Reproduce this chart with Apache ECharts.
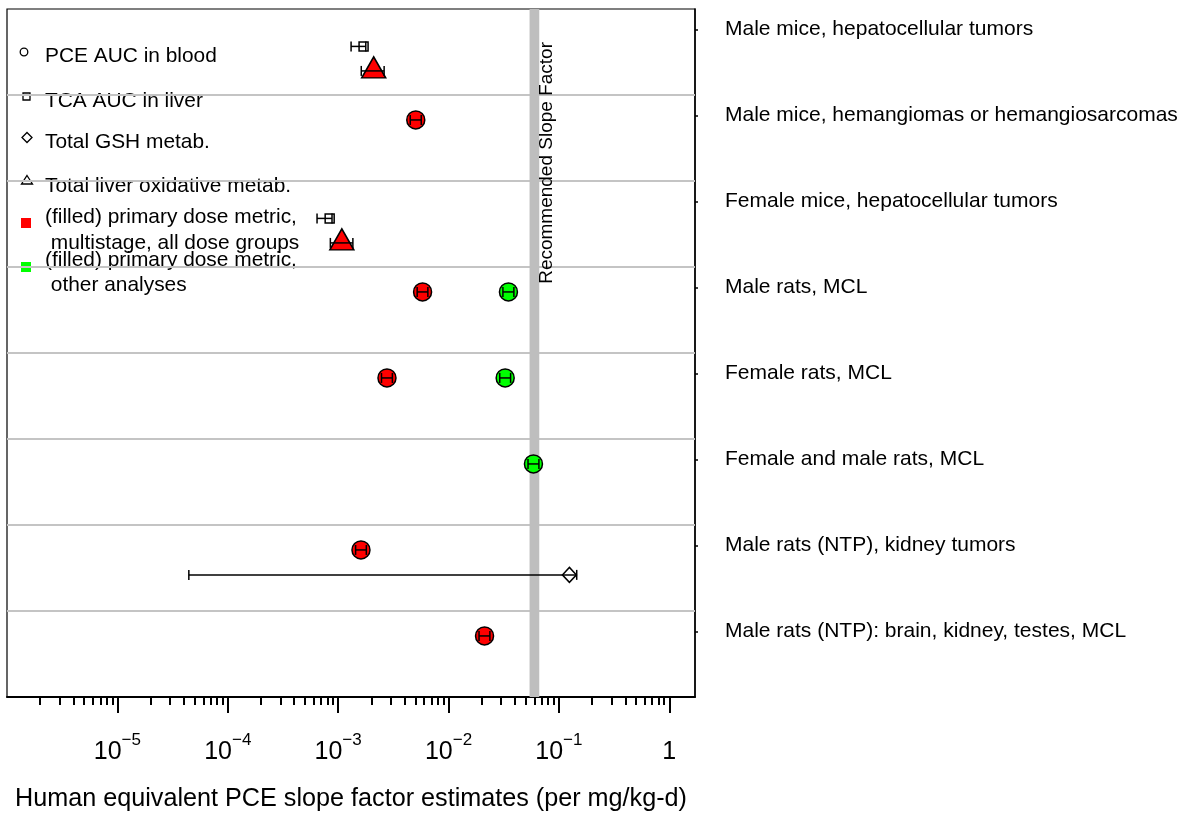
<!DOCTYPE html>
<html>
<head>
<meta charset="utf-8">
<script src="https://cdn.jsdelivr.net/npm/echarts@6/dist/echarts.min.js"></script>
<style>
  html, body { margin: 0; padding: 0; background: #fff; }
  #chart { width: 1187px; height: 813px; }
</style>
</head>
<body>
<div id="chart"></div>
<script>
const FONT = '"Liberation Sans", Arial, Helvetica, sans-serif';

// Study / tumor-site rows, top to bottom
const categories = [
  'Male mice, hepatocellular tumors',
  'Male mice, hemangiomas or hemangiosarcomas',
  'Female mice, hepatocellular tumors',
  'Male rats, MCL',
  'Female rats, MCL',
  'Female and male rats, MCL',
  'Male rats (NTP), kidney tumors',
  'Male rats (NTP): brain, kidney, testes, MCL'
];

// Each entry: [row index, estimate, lower bound, upper bound]  (per mg/kg-d)
const pceBloodMultistage = [
  [1, 5.05e-3, 4.5e-3, 5.66e-3],
  [3, 5.82e-3, 5.2e-3, 6.5e-3],
  [4, 2.77e-3, 2.47e-3, 3.1e-3],
  [6, 1.61e-3, 1.44e-3, 1.8e-3],
  [7, 0.0212, 0.0189, 0.0237]
];
const pceBloodOther = [
  [3, 0.0349, 0.0311, 0.0391],
  [4, 0.0326, 0.0291, 0.0365],
  [5, 0.0588, 0.0525, 0.0659]
];
const tcaLiver = [
  [0, 1.70e-3, 1.31e-3, 1.78e-3],
  [2, 8.38e-4, 6.44e-4, 8.8e-4]
];
const totalGsh = [
  [6, 0.1245, 4.44e-5, 0.145]
];
const liverOxidativeMultistage = [
  [0, 2.10e-3, 1.62e-3, 2.61e-3],
  [2, 1.08e-3, 8.5e-4, 1.36e-3]
];
const recommendedSlopeFactor = 0.06;

// Axis ticks
const decadeTicks = [1e-5, 1e-4, 1e-3, 1e-2, 1e-1, 1];
const decadeExponents = [-5, -4, -3, -2, -1, 0];
const minorTicks = [];
for (let e = -6; e <= -1; e++) {
  for (let m = 2; m <= 9; m++) minorTicks.push(+(m * Math.pow(10, e)).toPrecision(3));
}

// Layout inside each row (fraction of a row)
const LABEL_POS = 0.24;
const ROW_POS = { blood: 0.29, tca: 0.435, gsh: 0.58, oxid: 0.72 };
const X_MIN = 1e-6, X_MAX = 1.71;

const toPoints = (rows, pos) => rows.map(r => [r[1], r[0] + pos]);
const toBars = (rows, pos) => rows.map(r => [r[2], r[3], r[0] + pos]);

function errorBarItem(params, api) {
  const y = api.value(2);
  const a = api.coord([api.value(0), y]);
  const b = api.coord([api.value(1), y]);
  const h = 5;
  const st = { stroke: '#000', lineWidth: 1.5 };
  return {
    type: 'group',
    children: [
      { type: 'line', shape: { x1: a[0], y1: a[1], x2: b[0], y2: b[1] }, style: st },
      { type: 'line', shape: { x1: a[0], y1: a[1] - h, x2: a[0], y2: a[1] + h }, style: st },
      { type: 'line', shape: { x1: b[0], y1: b[1] - h, x2: b[0], y2: b[1] + h }, style: st }
    ]
  };
}

function separatorItem(params, api) {
  const k = api.value(0);
  const a = api.coord([X_MIN, k]);
  const b = api.coord([X_MAX, k]);
  return { type: 'line', shape: { x1: a[0], y1: a[1], x2: b[0], y2: b[1] },
           style: { stroke: '#c4c4c4', lineWidth: 2 } };
}

function recommendedItem(params, api) {
  const v = api.value(0);
  const top = api.coord([v, 0]);
  const bot = api.coord([v, categories.length]);
  return {
    type: 'group',
    children: [
      { type: 'rect', shape: { x: top[0] - 4.85, y: top[1], width: 9.7, height: bot[1] - top[1] },
        style: { fill: '#bebebe' } },
      { type: 'text', x: top[0] + 12.5, y: top[1] + 33, rotation: Math.PI / 2,
        style: { text: 'Recommended Slope Factor', fill: '#000', font: '19px ' + FONT,
                 align: 'right', verticalAlign: 'middle' } }
    ]
  };
}

const separators = [];
for (let k = 1; k < categories.length; k++) separators.push([k]);

const blackEdge = { borderColor: '#000', borderWidth: 1.5, opacity: 1 };

// Legend drawn as graphic elements
const legendText = [
  ['PCE AUC in blood', 45, 56],
  ['TCA AUC in liver', 45, 101],
  ['Total GSH metab.', 45, 142],
  ['Total liver oxidative metab.', 45, 186],
  ['(filled) primary dose metric,', 45, 217],
  [' multistage, all dose groups', 45, 243],
  ['(filled) primary dose metric,', 45, 260],
  [' other analyses', 45, 285]
];
const legendGraphics = legendText.map(t => ({
  type: 'text', x: t[1], y: t[2],
  style: { text: t[0], font: '20.9px ' + FONT, fill: '#000', verticalAlign: 'middle', align: 'left' }
}));
legendGraphics.push(
  { type: 'circle', shape: { cx: 24, cy: 52, r: 3.8 }, style: { fill: 'none', stroke: '#000', lineWidth: 1.3 } },
  { type: 'rect', shape: { x: 23, y: 93, width: 7, height: 7 }, style: { fill: 'none', stroke: '#000', lineWidth: 1.3 } },
  { type: 'polygon', shape: { points: [[27, 132.5], [32, 137.5], [27, 142.5], [22, 137.5]] }, style: { fill: 'none', stroke: '#000', lineWidth: 1.3 } },
  { type: 'polygon', shape: { points: [[27, 175.5], [32.5, 184], [21.5, 184]] }, style: { fill: 'none', stroke: '#000', lineWidth: 1.3 } },
  { type: 'rect', shape: { x: 21, y: 218, width: 10, height: 10 }, style: { fill: '#ff0000' } },
  { type: 'rect', shape: { x: 21, y: 262, width: 10, height: 10 }, style: { fill: '#00ff00' } }
);

const chart = echarts.init(document.getElementById('chart'), null, { renderer: 'canvas' });

chart.setOption({
  animation: false,
  backgroundColor: '#fff',
  textStyle: { fontFamily: FONT },
  grid: {
    left: 7, top: 9, width: 688, height: 688, outerBoundsMode: 'none', containLabel: false,
    show: true, borderColor: '#000', borderWidth: 1.2, backgroundColor: 'transparent'
  },
  xAxis: [
    {
      type: 'log', logBase: 10, min: X_MIN, max: X_MAX, position: 'bottom',
      name: 'Human equivalent PCE slope factor estimates (per mg/kg-d)',
      nameLocation: 'middle', nameGap: 90,
      nameTextStyle: { fontSize: 25.2, color: '#000', fontFamily: FONT },
      axisLine: { show: true, onZero: false, lineStyle: { color: '#000', width: 2 } },
      axisTick: { show: true, customValues: decadeTicks, length: 16, lineStyle: { color: '#000', width: 2 } },
      axisLabel: {
        show: true, customValues: decadeTicks, margin: 35, color: '#000',
        formatter: v => {
          const i = decadeTicks.findIndex(t => Math.abs(Math.log10(t) - Math.log10(v)) < 1e-6);
          const e = decadeExponents[i];
          return e === 0 ? '{b|1}' : '{b|10}{s|\u2212' + (-e) + '}';
        },
        rich: {
          b: { fontSize: 25, lineHeight: 40, fontFamily: FONT, color: '#000' },
          s: { fontSize: 17, lineHeight: 10, verticalAlign: 'top', fontFamily: FONT, color: '#000' }
        }
      },
      splitLine: { show: false }, minorTick: { show: false }, minorSplitLine: { show: false }
    },
    {
      type: 'log', logBase: 10, min: X_MIN, max: X_MAX, position: 'bottom',
      axisLine: { show: false, onZero: false },
      axisTick: { show: true, customValues: minorTicks, length: 8, lineStyle: { color: '#000', width: 2 } },
      axisLabel: { show: false },
      splitLine: { show: false }
    }
  ],
  yAxis: [
    {
      type: 'value', min: 0, max: categories.length, interval: 1, inverse: true,
      axisLine: { show: false, onZero: false }, axisTick: { show: false }, axisLabel: { show: false },
      splitLine: { show: false }
    },
    {
      type: 'value', min: 0, max: categories.length, interval: 1, inverse: true, position: 'right',
      axisLine: { show: true, onZero: false, lineStyle: { color: '#000', width: 1.5 } },
      axisTick: { show: true, customValues: categories.map((c, i) => i + LABEL_POS), length: 3, lineStyle: { color: '#000', width: 1.5 } },
      axisLabel: {
        show: true, customValues: categories.map((c, i) => i + LABEL_POS), margin: 30,
        fontSize: 21, color: '#000', fontFamily: FONT, align: 'left',
        formatter: v => categories[Math.round(v - LABEL_POS)]
      },
      splitLine: { show: false }
    }
  ],
  graphic: legendGraphics,
  series: [
    { type: 'custom', name: 'rows', renderItem: separatorItem, data: separators,
      encode: { y: 0 }, z: 1, silent: true },
    { type: 'custom', name: 'Recommended Slope Factor', renderItem: recommendedItem,
      data: [[recommendedSlopeFactor, 0]], encode: { x: 0, y: 1 }, z: 2, silent: true },
    { type: 'scatter', name: 'TCA AUC in liver', data: toPoints(tcaLiver, ROW_POS.tca),
      symbol: 'rect', symbolSize: 9, itemStyle: { color: 'rgba(0,0,0,0)', ...blackEdge }, z: 3 },
    { type: 'scatter', name: 'Total GSH metab.', data: toPoints(totalGsh, ROW_POS.gsh),
      symbol: 'diamond', symbolSize: [14, 15], itemStyle: { color: 'rgba(0,0,0,0)', ...blackEdge }, z: 3 },
    { type: 'scatter', name: 'Total liver oxidative metab.', data: toPoints(liverOxidativeMultistage, ROW_POS.oxid),
      symbol: 'triangle', symbolSize: [24, 21], symbolOffset: [0, -3.5],
      itemStyle: { color: '#ff0000', ...blackEdge }, z: 3 },
    { type: 'scatter', name: 'PCE AUC in blood, multistage', data: toPoints(pceBloodMultistage, ROW_POS.blood),
      symbol: 'circle', symbolSize: 18, itemStyle: { color: '#ff0000', ...blackEdge }, z: 3 },
    { type: 'scatter', name: 'PCE AUC in blood, other', data: toPoints(pceBloodOther, ROW_POS.blood),
      symbol: 'circle', symbolSize: 18, itemStyle: { color: '#00ff00', ...blackEdge }, z: 3 },
    { type: 'custom', name: 'bars', renderItem: errorBarItem, z: 4, silent: true,
      encode: { x: [0, 1], y: 2 },
      data: [].concat(
        toBars(tcaLiver, ROW_POS.tca),
        toBars(totalGsh, ROW_POS.gsh),
        toBars(liverOxidativeMultistage, ROW_POS.oxid),
        toBars(pceBloodMultistage, ROW_POS.blood),
        toBars(pceBloodOther, ROW_POS.blood)
      ) }
  ]
});
</script>
</body>
</html>
